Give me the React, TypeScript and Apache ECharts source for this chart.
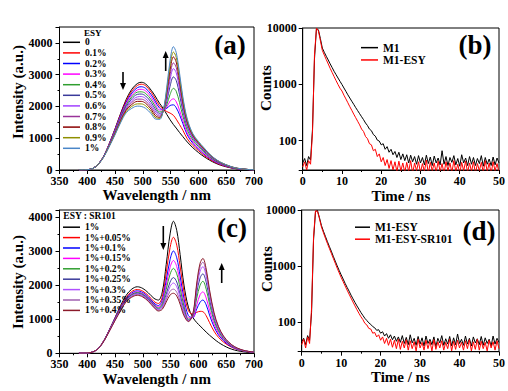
import React, { useEffect, useRef } from 'react';
import * as echarts from 'echarts';

const SERIF = 'Liberation Serif';

// ---------- Panel (a): PL spectra vs ESY content ----------
const WL_A = [385, 400, 410, 420, 430, 440, 450, 460, 470, 480, 490, 497, 505, 515, 522, 530, 537, 543, 549, 555, 560, 566, 572, 580, 590, 600, 610, 620, 630, 640, 650, 660, 670, 680, 690, 700];
const ESY_LABELS = ['0', '0.1%', '0.2%', '0.3%', '0.4%', '0.5%', '0.6%', '0.7%', '0.8%', '0.9%', '1%'];
const ESY_COLORS = ['#000000', '#ff0000', '#0000ff', '#ff00ff', '#2f9e2f', '#3a3a9a', '#a040ff', '#993399', '#8b0000', '#8f8f00', '#4a86c8'];
const A_0 = [5, 10, 50, 190, 450, 850, 1300, 1780, 2220, 2540, 2720, 2760, 2710, 2510, 2330, 2100, 1930, 1750, 1580, 1430, 1320, 1180, 1050, 880, 700, 550, 420, 310, 220, 150, 100, 60, 35, 20, 10, 5];
const A_01 = [5, 10, 50, 190, 450, 845, 1290, 1760, 2180, 2480, 2660, 2700, 2650, 2450, 2250, 2020, 1910, 1840, 1790, 1720, 1600, 1430, 1250, 980, 770, 610, 460, 340, 240, 165, 110, 65, 38, 22, 11, 5];
const A_02 = [5, 10, 50, 188, 445, 835, 1270, 1730, 2130, 2420, 2590, 2620, 2570, 2370, 2170, 1950, 1900, 1940, 2030, 2050, 1960, 1740, 1460, 1100, 840, 660, 500, 370, 260, 180, 120, 70, 40, 23, 12, 6];
const A_03 = [5, 10, 50, 187, 442, 825, 1250, 1700, 2090, 2360, 2520, 2540, 2490, 2290, 2090, 1890, 1890, 1980, 2170, 2240, 2150, 1880, 1550, 1160, 880, 690, 520, 385, 270, 185, 125, 75, 42, 24, 12, 6];
const A_04 = [5, 10, 50, 186, 440, 815, 1230, 1670, 2050, 2300, 2450, 2460, 2410, 2210, 2010, 1830, 1880, 2050, 2380, 2570, 2480, 2120, 1700, 1250, 940, 740, 560, 410, 290, 200, 135, 80, 45, 25, 13, 6];
const A_05 = [5, 10, 50, 185, 437, 805, 1210, 1640, 2000, 2240, 2380, 2390, 2330, 2130, 1930, 1780, 1870, 2160, 2640, 2930, 2820, 2370, 1850, 1350, 1000, 790, 600, 440, 310, 210, 140, 85, 48, 27, 14, 7];
const A_06 = [5, 10, 50, 184, 434, 795, 1190, 1610, 1960, 2180, 2300, 2310, 2250, 2050, 1860, 1730, 1870, 2260, 2840, 3190, 3060, 2550, 1960, 1410, 1030, 820, 630, 460, 325, 220, 150, 90, 50, 28, 14, 7];
const A_07 = [5, 10, 50, 183, 431, 785, 1170, 1580, 1920, 2120, 2230, 2230, 2170, 1980, 1790, 1690, 1870, 2350, 2990, 3370, 3230, 2680, 2050, 1460, 1060, 840, 650, 475, 335, 228, 155, 93, 52, 29, 15, 7];
const A_08 = [5, 10, 50, 182, 428, 775, 1150, 1550, 1880, 2060, 2160, 2160, 2100, 1910, 1720, 1650, 1880, 2440, 3150, 3560, 3400, 2820, 2140, 1510, 1090, 860, 665, 485, 345, 235, 160, 96, 54, 30, 15, 7];
const A_09 = [5, 10, 50, 181, 425, 765, 1130, 1520, 1840, 2000, 2080, 2080, 2020, 1840, 1660, 1620, 1890, 2520, 3300, 3710, 3550, 2930, 2220, 1560, 1120, 880, 680, 495, 350, 240, 163, 98, 55, 31, 16, 8];
const A_10 = [5, 10, 50, 180, 422, 755, 1110, 1490, 1800, 1940, 2010, 2000, 1940, 1770, 1610, 1590, 1900, 2600, 3450, 3880, 3700, 3050, 2300, 1600, 1140, 900, 700, 505, 355, 245, 165, 100, 56, 32, 16, 8];
const A_SERIES = [A_0, A_01, A_02, A_03, A_04, A_05, A_06, A_07, A_08, A_09, A_10];

// ---------- Panel (c): PL spectra vs SR101 content ----------
const WL_C = [385, 400, 410, 420, 430, 440, 450, 460, 470, 480, 490, 500, 510, 520, 528, 535, 542, 549, 555, 561, 567, 574, 582, 590, 597, 603, 608, 614, 620, 628, 636, 645, 655, 665, 675, 685, 695, 700];
const SR_LABELS = ['1%', '1%+0.05%', '1%+0.1%', '1%+0.15%', '1%+0.2%', '1%+0.25%', '1%+0.3%', '1%+0.35%', '1%+0.4%'];
const SR_COLORS = ['#000000', '#ff0000', '#0000ff', '#ff00ff', '#2f9e2f', '#3a3a9a', '#b050ff', '#a060b0', '#8b1a2a'];
const C_0 = [5, 10, 40, 150, 380, 700, 1050, 1400, 1700, 1880, 1950, 1900, 1770, 1610, 1560, 1800, 2600, 3500, 3870, 3600, 2900, 2000, 1350, 1050, 900, 800, 720, 620, 530, 420, 320, 230, 150, 95, 60, 35, 20, 15];
const C_005 = [5, 10, 40, 148, 375, 690, 1030, 1360, 1640, 1810, 1870, 1820, 1690, 1520, 1460, 1660, 2350, 3100, 3400, 3170, 2560, 1800, 1250, 1150, 1200, 1230, 1220, 1100, 900, 650, 470, 330, 220, 140, 90, 55, 35, 25];
const C_010 = [5, 10, 40, 147, 372, 685, 1020, 1340, 1610, 1770, 1830, 1780, 1650, 1470, 1400, 1560, 2130, 2750, 3000, 2800, 2270, 1600, 1100, 1050, 1300, 1500, 1560, 1420, 1120, 780, 540, 370, 240, 150, 95, 58, 36, 27];
const C_015 = [5, 10, 40, 146, 370, 680, 1010, 1325, 1590, 1745, 1800, 1750, 1620, 1440, 1360, 1500, 1990, 2520, 2720, 2540, 2070, 1480, 1040, 1050, 1420, 1720, 1800, 1620, 1260, 860, 590, 400, 260, 160, 100, 60, 38, 28];
const C_020 = [5, 10, 40, 145, 368, 675, 1000, 1310, 1575, 1725, 1780, 1730, 1600, 1420, 1330, 1450, 1870, 2320, 2490, 2330, 1910, 1380, 1000, 1080, 1620, 2000, 2110, 1880, 1440, 960, 650, 430, 275, 170, 105, 63, 40, 30];
const C_025 = [5, 10, 40, 144, 366, 670, 990, 1295, 1560, 1705, 1760, 1710, 1580, 1400, 1300, 1390, 1730, 2090, 2220, 2090, 1730, 1270, 970, 1100, 1780, 2210, 2330, 2080, 1580, 1040, 700, 460, 290, 180, 110, 66, 42, 32];
const C_030 = [5, 10, 40, 143, 364, 665, 980, 1280, 1545, 1685, 1740, 1690, 1560, 1380, 1280, 1360, 1650, 1960, 2060, 1950, 1630, 1210, 950, 1120, 1900, 2410, 2540, 2260, 1710, 1110, 740, 480, 300, 185, 113, 68, 43, 33];
const C_035 = [5, 10, 40, 142, 362, 660, 970, 1265, 1530, 1665, 1720, 1670, 1540, 1360, 1260, 1320, 1570, 1820, 1880, 1790, 1520, 1150, 940, 1140, 1990, 2540, 2670, 2370, 1790, 1160, 770, 495, 310, 190, 116, 70, 44, 34];
const C_040 = [5, 10, 40, 141, 360, 655, 960, 1250, 1515, 1645, 1700, 1650, 1520, 1340, 1240, 1290, 1500, 1710, 1760, 1680, 1440, 1100, 930, 1150, 2060, 2640, 2780, 2470, 1860, 1200, 790, 510, 320, 195, 120, 72, 45, 35];
const C_SERIES = [C_0, C_005, C_010, C_015, C_020, C_025, C_030, C_035, C_040];

// ---------- Panels (b) and (d): decay curves, 0.5 ns channels ----------
const TIME = Array.from({ length: 101 }, (_, i) => i * 0.5);
const B_M1 = [40, 48, 36, 52, 45, 160, 2800, 9700, 9300, 6500, 4400, 3700, 3150, 2700, 2300, 1980, 1700, 1480, 1290, 1130, 990, 860, 750, 650, 570, 500, 440, 385, 340, 300, 265, 235, 205, 185, 160, 150, 128, 120, 102, 98, 84, 88, 70, 78, 62, 70, 56, 64, 50, 62, 46, 58, 44, 56, 40, 55, 42, 52, 38, 54, 40, 50, 37, 55, 39, 51, 36, 53, 40, 49, 37, 66, 38, 52, 36, 50, 41, 54, 37, 48, 35, 56, 40, 49, 36, 52, 38, 50, 36, 48, 39, 54, 35, 50, 38, 47, 36, 51, 37, 49, 40];
const B_M1ESY = [34, 42, 30, 44, 38, 140, 3300, 9900, 8900, 6000, 4000, 3300, 2750, 2300, 1920, 1620, 1370, 1160, 990, 850, 760, 640, 550, 470, 400, 345, 295, 255, 220, 190, 160, 145, 118, 108, 88, 84, 66, 70, 52, 58, 42, 50, 36, 46, 32, 44, 30, 42, 28, 43, 29, 40, 27, 41, 28, 44, 26, 40, 29, 42, 27, 39, 28, 45, 26, 41, 29, 40, 27, 43, 28, 39, 26, 42, 29, 40, 27, 44, 28, 38, 26, 41, 29, 43, 27, 40, 28, 42, 26, 39, 29, 41, 27, 44, 28, 40, 26, 42, 29, 39, 27];
const D_M1ESY = [45, 52, 40, 58, 48, 150, 2900, 9400, 9800, 7300, 5300, 4200, 3400, 2750, 2250, 1850, 1500, 1230, 1010, 840, 700, 590, 495, 420, 360, 305, 262, 226, 196, 172, 150, 133, 118, 108, 98, 92, 84, 80, 72, 74, 64, 68, 57, 63, 52, 60, 49, 57, 46, 55, 44, 58, 42, 54, 40, 60, 43, 52, 39, 56, 41, 53, 38, 57, 42, 50, 40, 55, 37, 52, 43, 58, 39, 51, 41, 56, 38, 53, 40, 62, 42, 50, 39, 57, 41, 52, 38, 55, 43, 51, 40, 56, 39, 53, 42, 50, 38, 57, 41, 52, 44];
const D_M1ESYSR = [40, 50, 35, 55, 42, 180, 3300, 9700, 9500, 7000, 5000, 3950, 3150, 2550, 2080, 1700, 1380, 1130, 920, 760, 630, 530, 445, 375, 318, 270, 230, 196, 168, 145, 126, 112, 96, 90, 78, 76, 64, 66, 55, 60, 48, 55, 42, 52, 39, 50, 36, 48, 34, 50, 33, 46, 35, 49, 32, 47, 34, 45, 31, 50, 35, 44, 32, 48, 34, 46, 31, 49, 33, 45, 35, 47, 32, 44, 34, 50, 31, 46, 33, 48, 35, 44, 32, 47, 34, 49, 31, 45, 33, 50, 32, 46, 34, 44, 31, 48, 35, 45, 32, 47, 34];

// ---------- helpers ----------
const tickLabel = { color: '#000', fontFamily: SERIF, fontWeight: 'bold', fontSize: 12 };
const nameStyle = { color: '#000', fontFamily: SERIF, fontWeight: 'bold', fontSize: 15 };

function valueX(min: number, max: number, interval: number, name: string, gap: number) {
  return {
    type: 'value', min, max, interval,
    name, nameLocation: 'middle', nameGap: gap, nameTextStyle: nameStyle,
    axisLine: { show: true, onZero: false, lineStyle: { color: '#000', width: 1 } },
    axisTick: { show: true, inside: false, length: 4, lineStyle: { color: '#000', width: 1 } },
    minorTick: { show: true, splitNumber: 2, length: 2, lineStyle: { color: '#000', width: 1 } },
    splitLine: { show: false },
    axisLabel: { ...tickLabel, margin: 5 },
  };
}

function valueY(min: number, max: number, interval: number) {
  return {
    type: 'value', min, max, interval,
    axisLine: { show: true, onZero: false, lineStyle: { color: '#000', width: 1 } },
    axisTick: { show: true, inside: false, length: 4, lineStyle: { color: '#000', width: 1 } },
    minorTick: { show: true, splitNumber: 2, length: 2, lineStyle: { color: '#000', width: 1 } },
    splitLine: { show: false },
    axisLabel: { ...tickLabel, margin: 7, formatter: (v: number) => (v % interval === 0 ? String(v) : '') },
  };
}

function logY(min: number, max: number) {
  return {
    type: 'log', logBase: 10, min, max,
    axisLine: { show: true, onZero: false, lineStyle: { color: '#000', width: 1 } },
    axisTick: { show: true, inside: false, length: 4, lineStyle: { color: '#000', width: 1 } },
    splitLine: { show: false },
    axisLabel: {
      ...tickLabel, margin: 6,
      formatter: (v: number) => {
        const l = Math.log10(v);
        return Math.abs(l - Math.round(l)) < 1e-6 ? String(Math.round(Math.pow(10, Math.round(l)))) : '';
      },
    },
  };
}

function txt(x: number, y: number, text: string, size: number, align = 'center', rot = 0) {
  return {
    type: 'text', x, y, rotation: rot,
    style: {
      text, fill: '#000', fontFamily: SERIF, fontWeight: 'bold', fontSize: size,
      align, verticalAlign: 'middle',
    },
  };
}

function arrow(x: number, yTop: number, yBot: number, up: boolean) {
  const head = 7;
  const hw = 3;
  if (up) {
    return [
      { type: 'line', shape: { x1: x, y1: yTop + head - 1, x2: x, y2: yBot }, style: { stroke: '#000', lineWidth: 1.6 } },
      { type: 'polygon', shape: { points: [[x - hw, yTop + head], [x + hw, yTop + head], [x, yTop]] }, style: { fill: '#000' } },
    ];
  }
  return [
    { type: 'line', shape: { x1: x, y1: yTop, x2: x, y2: yBot - head + 1 }, style: { stroke: '#000', lineWidth: 1.6 } },
    { type: 'polygon', shape: { points: [[x - hw, yBot - head], [x + hw, yBot - head], [x, yBot]] }, style: { fill: '#000' } },
  ];
}

function legend(names: string[], left: number, top: number, iw: number, size: number, lh: number) {
  return {
    data: names, orient: 'vertical', left, top, padding: 0, itemGap: 0,
    itemWidth: iw, itemHeight: 1.5, icon: 'rect', selectedMode: false,
    textStyle: { color: '#000', fontFamily: SERIF, fontWeight: 'bold', fontSize: size, lineHeight: lh },
  };
}

function lineSeries(name: string, xs: number[], ys: number[], color: string, smooth: number | boolean) {
  return {
    type: 'line', name, data: xs.map((x, i) => [x, ys[i]]),
    symbol: 'none', showSymbol: false, smooth, clip: true,
    lineStyle: { color, width: 1 }, itemStyle: { color },
  };
}

const gridBox = { show: true, borderColor: '#000', borderWidth: 1, backgroundColor: 'transparent' };
const GLOBAL_TEXT = { fontFamily: SERIF, fontWeight: 'bold', color: '#000' };

const OPT_A = {
  animation: false,
  textStyle: GLOBAL_TEXT,
  grid: { left: 59.5, top: 27, width: 194.5, height: 143, ...gridBox },
  xAxis: valueX(350, 700, 50, 'Wavelength / nm', 16),
  yAxis: valueY(0, 4500, 1000),
  legend: legend(ESY_LABELS, 63, 37, 17, 9.5, 10.6),
  series: ESY_LABELS.map((n, i) => lineSeries(n, WL_A, A_SERIES[i], ESY_COLORS[i], 0.35)),
  graphic: [
    txt(18.3, 92, 'Intensity (a.u.)', 15, 'center', Math.PI / 2),
    txt(84, 33, 'ESY', 9, 'left'),
    txt(230, 45, '(a)', 27),
    ...arrow(123, 72, 90, false),
    ...arrow(165.7, 51, 71, true),
  ],
};

const OPT_B = {
  animation: false,
  textStyle: GLOBAL_TEXT,
  grid: { left: 302.7, top: 28, width: 198.3, height: 142, ...gridBox },
  xAxis: valueX(0, 50, 10, 'Time / ns', 18),
  yAxis: logY(30, 10000),
  legend: legend(['M1', 'M1-ESY'], 361, 41.5, 17, 11.5, 12.3),
  series: [
    lineSeries('M1', TIME, B_M1, '#000000', false),
    lineSeries('M1-ESY', TIME, B_M1ESY, '#ff0000', false),
  ],
  graphic: [
    txt(265.7, 88, 'Counts', 15, 'center', Math.PI / 2),
    txt(475, 45, '(b)', 27),
  ],
};

const OPT_C = {
  animation: false,
  textStyle: GLOBAL_TEXT,
  grid: { left: 59.5, top: 210, width: 194.5, height: 143.3, ...gridBox },
  xAxis: valueX(350, 700, 50, 'Wavelength / nm', 16.5),
  yAxis: valueY(0, 4200, 1000),
  legend: legend(SR_LABELS, 63, 222, 17, 9.5, 10.4),
  series: SR_LABELS.map((n, i) => lineSeries(n, WL_C, C_SERIES[i], SR_COLORS[i], 0.35)),
  graphic: [
    txt(18.3, 282, 'Intensity (a.u.)', 15, 'center', Math.PI / 2),
    txt(63.3, 216, 'ESY : SR101', 9.5, 'left'),
    txt(232, 228, '(c)', 27),
    ...arrow(163.3, 226, 250, false),
    ...arrow(221.7, 263, 283, true),
  ],
};

const OPT_D = {
  animation: false,
  textStyle: GLOBAL_TEXT,
  grid: { left: 301.7, top: 210, width: 199.3, height: 141.7, ...gridBox },
  xAxis: valueX(0, 50, 10, 'Time / ns', 18),
  yAxis: logY(30, 10000),
  legend: legend(['M1-ESY', 'M1-ESY-SR101'], 355, 221.2, 15, 11.5, 11),
  series: [
    lineSeries('M1-ESY', TIME, D_M1ESY, '#000000', false),
    lineSeries('M1-ESY-SR101', TIME, D_M1ESYSR, '#ff0000', false),
  ],
  graphic: [
    txt(266.7, 269, 'Counts', 15, 'center', Math.PI / 2),
    txt(479, 231, '(d)', 27),
  ],
};

function Panel({ option }: { option: any }) {
  const ref = useRef<HTMLDivElement>(null);
  useEffect(() => {
    if (!ref.current) return;
    const chart = echarts.init(ref.current, undefined, { renderer: 'svg' });
    chart.setOption(option);
    return () => chart.dispose();
  }, [option]);
  return <div ref={ref} style={{ position: 'absolute', left: 0, top: 0, width: 508, height: 391 }} />;
}

export default function App() {
  return (
    <div style={{ position: 'fixed', left: 0, top: 0, width: 508, height: 391, background: '#fff', overflow: 'hidden' }}>
      <Panel option={OPT_A} />
      <Panel option={OPT_B} />
      <Panel option={OPT_C} />
      <Panel option={OPT_D} />
    </div>
  );
}
